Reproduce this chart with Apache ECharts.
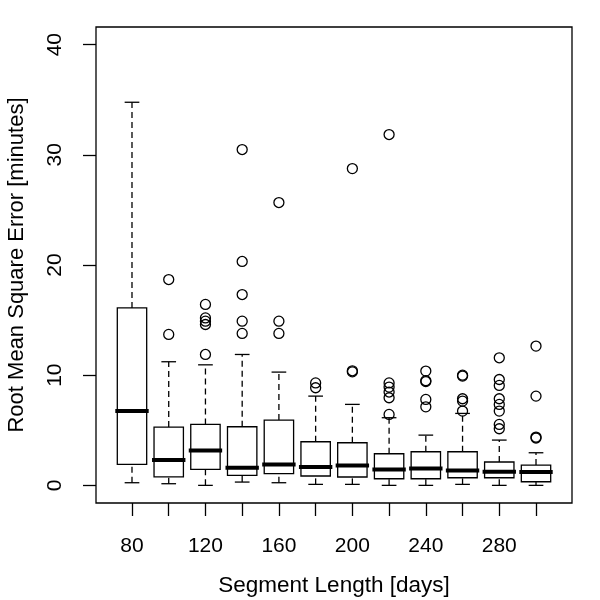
<!DOCTYPE html>
<html>
<head>
<meta charset="utf-8">
<script src="https://cdn.jsdelivr.net/npm/echarts@6/dist/echarts.min.js"></script>
<style>
  html, body { margin: 0; padding: 0; background: #fff; }
  #chart { width: 600px; height: 600px; }
</style>
</head>
<body>
<div id="chart"></div>
<script>
// segment lengths (days)
var categories = ['80', '100', '120', '140', '160', '180', '200', '220', '240', '260', '280', '300'];

// box statistics (minutes)
var lowerWhisker = [0.24, 0.15, 0.0, 0.3, 0.24, 0.09, 0.09, 0.0, 0.0, 0.09, 0.0, 0.0];
var q1 = [1.9, 0.78, 1.45, 0.9, 1.06, 0.85, 0.76, 0.6, 0.6, 0.69, 0.69, 0.33];
var median = [6.74, 2.3, 3.17, 1.6, 1.9, 1.66, 1.81, 1.45, 1.54, 1.36, 1.24, 1.21];
var q3 = [16.1, 5.29, 5.53, 5.32, 5.93, 3.96, 3.87, 2.87, 3.05, 3.05, 2.12, 1.84];
var upperWhisker = [34.77, 11.22, 10.94, 11.88, 10.28, 8.1, 7.35, 6.14, 4.56, 6.53, 4.11, 2.96];

var outliers = [
    [],
    [18.68, 13.7],
    [16.42, 15.2, 14.9, 14.6, 11.88],
    [30.48, 20.32, 17.32, 14.9, 13.79],
    [25.67, 14.9, 13.79],
    [9.3, 8.86],
    [28.75, 10.4, 10.3],
    [31.84, 9.3, 8.92, 8.47, 7.95, 6.44],
    [10.37, 9.5, 9.42, 7.8, 7.13],
    [10.0, 9.92, 7.86, 7.65, 6.74],
    [11.58, 9.61, 9.07, 7.86, 7.35, 6.74, 5.53, 5.14],
    [12.64, 8.1, 4.38, 4.3]
];

var yTicks = [0, 10, 20, 30, 40];

var boxData = categories.map(function (c, i) {
    return [i + 1, lowerWhisker[i], q1[i], median[i], q3[i], upperWhisker[i]];
});
var outlierData = [];
outliers.forEach(function (list, i) {
    list.forEach(function (v) { outlierData.push([i + 1, v]); });
});

var font = 'Liberation Sans, Arial, Helvetica, sans-serif';

function renderBox(params, api) {
    var x = api.value(0);
    var unit = api.size([1, 0])[0];
    var bw = unit * 0.8, cw = unit * 0.4;
    var pLo = api.coord([x, api.value(1)]);
    var pQ1 = api.coord([x, api.value(2)]);
    var pMed = api.coord([x, api.value(3)]);
    var pQ3 = api.coord([x, api.value(4)]);
    var pHi = api.coord([x, api.value(5)]);
    var cx = pMed[0];
    var solid = { stroke: '#000', lineWidth: 1.3 };
    var dashed = { stroke: '#000', lineWidth: 1.3, lineDash: [6, 4] };
    return {
        type: 'group',
        children: [
            { type: 'line', shape: { x1: cx, y1: pLo[1], x2: cx, y2: pQ1[1] }, style: dashed },
            { type: 'line', shape: { x1: cx, y1: pQ3[1], x2: cx, y2: pHi[1] }, style: dashed },
            { type: 'line', shape: { x1: cx - cw / 2, y1: pLo[1], x2: cx + cw / 2, y2: pLo[1] }, style: solid },
            { type: 'line', shape: { x1: cx - cw / 2, y1: pHi[1], x2: cx + cw / 2, y2: pHi[1] }, style: solid },
            { type: 'rect', shape: { x: cx - bw / 2, y: pQ3[1], width: bw, height: pQ1[1] - pQ3[1] },
              style: { fill: '#fff', stroke: '#000', lineWidth: 1.3 } },
            { type: 'line', shape: { x1: cx - bw / 2, y1: pMed[1], x2: cx + bw / 2, y2: pMed[1] },
              style: { stroke: '#000', lineWidth: 4, lineCap: 'square' } }
        ]
    };
}

var chart = echarts.init(document.getElementById('chart'));
chart.setOption({
    animation: false,
    backgroundColor: '#fff',
    grid: {
        left: 96, right: 28, top: 27, bottom: 97,
        outerBoundsMode: 'none',
        show: true, borderColor: '#000', borderWidth: 1.3, backgroundColor: 'transparent'
    },
    xAxis: {
        type: 'value',
        min: 0.02, max: 12.98,
        splitLine: { show: false },
        axisLine: { show: false, onZero: false },
        axisTick: { show: true, inside: false, length: 13, lineStyle: { color: '#000', width: 1.3 },
                    customValues: categories.map(function (c, i) { return i + 1; }) },
        axisLabel: {
            customValues: [1, 3, 5, 7, 9, 11],
            formatter: function (v) { return categories[Math.round(v) - 1]; },
            color: '#000', fontSize: 21, fontFamily: font, margin: 33
        },
        name: 'Segment Length [days]',
        nameLocation: 'middle',
        nameGap: 71,
        nameTextStyle: { color: '#000', fontSize: 22.5, fontFamily: font }
    },
    yAxis: {
        type: 'value',
        min: -1.6, max: 41.6,
        splitLine: { show: false },
        axisLine: { show: false, onZero: false },
        axisTick: { show: true, inside: false, length: 13, lineStyle: { color: '#000', width: 1.3 },
                    customValues: yTicks },
        axisLabel: {
            customValues: yTicks,
            rotate: 90,
            color: '#000', fontSize: 21, fontFamily: font, margin: 30
        },
        name: 'Root Mean Square Error [minutes]',
        nameLocation: 'middle',
        nameGap: 68,
        nameRotate: 90,
        nameTextStyle: { color: '#000', fontSize: 22, fontFamily: font }
    },
    series: [
        {
            type: 'custom',
            renderItem: renderBox,
            encode: { x: 0, y: [1, 2, 3, 4, 5] },
            data: boxData,
            z: 2
        },
        {
            type: 'scatter',
            data: outlierData,
            symbol: 'circle',
            symbolSize: 10,
            itemStyle: { color: 'transparent', borderColor: '#000', borderWidth: 1.3, opacity: 1 },
            z: 3
        }
    ]
});
</script>
</body>
</html>
